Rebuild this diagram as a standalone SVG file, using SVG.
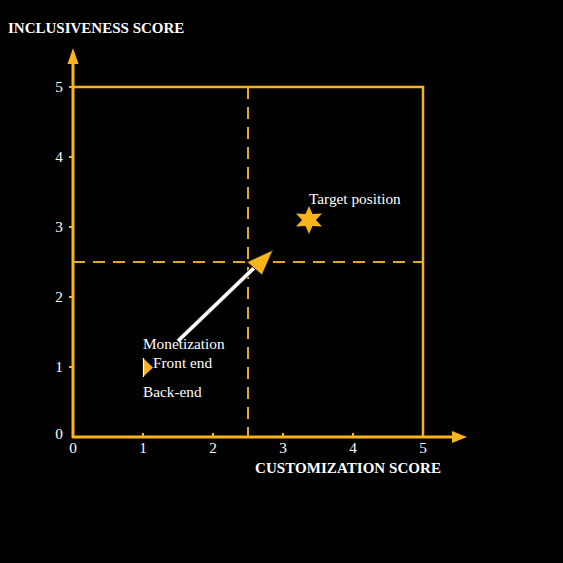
<svg xmlns="http://www.w3.org/2000/svg" width="563" height="563" viewBox="0 0 563 563">
<style>
.ax{stroke:#F8B41C;stroke-width:3;fill:none}
.box{stroke:#F8B41C;stroke-width:2.5;fill:none}
.dash{stroke:#E8A820;stroke-width:2;stroke-dasharray:12 8;fill:none}
.tick{stroke:#F8B41C;stroke-width:2}
.t{font-family:"Liberation Serif","Times New Roman",serif;font-size:15.3px;fill:#fff}
.b{font-family:"Liberation Serif","Times New Roman",serif;font-size:15px;font-weight:bold;fill:#fff}
.yl{text-anchor:end}
.xl{text-anchor:middle}
</style>
<rect width="563" height="563" fill="#000"/>
<text class="b" x="8" y="33">INCLUSIVENESS SCORE</text>
<text class="b" x="255" y="473" textLength="186">CUSTOMIZATION SCORE</text>
<g id="quadrants">
<polyline class="box" points="73,87 423,87 423,437"/>
<line class="dash" x1="248" y1="87" x2="248" y2="437"/>
<line class="dash" x1="73" y1="262" x2="423" y2="262"/>
</g>
<g id="axes">
<line class="ax" x1="73" y1="438" x2="73" y2="62"/>
<polygon points="73,48 67.5,64 78.5,64" fill="#F8B41C"/>
<line class="ax" x1="72" y1="437" x2="454" y2="437"/>
<polygon points="467,437 452,431 452,443" fill="#F8B41C"/>
<g class="tick">
<line x1="143" y1="433" x2="143" y2="437"/>
<line x1="213" y1="433" x2="213" y2="437"/>
<line x1="283" y1="433" x2="283" y2="437"/>
<line x1="353" y1="433" x2="353" y2="437"/>
<line x1="69" y1="367" x2="73" y2="367"/>
<line x1="69" y1="297" x2="73" y2="297"/>
<line x1="69" y1="227" x2="73" y2="227"/>
<line x1="69" y1="157" x2="73" y2="157"/>
<line x1="69" y1="87" x2="73" y2="87"/>
</g>
<text class="t yl" x="63" y="92">5</text>
<text class="t yl" x="63" y="162">4</text>
<text class="t yl" x="63" y="232">3</text>
<text class="t yl" x="63" y="302">2</text>
<text class="t yl" x="63" y="372">1</text>
<text class="t yl" x="63" y="439">0</text>
<text class="t xl" x="73" y="453">0</text>
<text class="t xl" x="143" y="453">1</text>
<text class="t xl" x="213" y="453">2</text>
<text class="t xl" x="283" y="453">3</text>
<text class="t xl" x="353" y="453">4</text>
<text class="t xl" x="423" y="453">5</text>
</g>
<g id="connectors">
<line x1="178" y1="341" x2="256" y2="266" stroke="#222" stroke-width="5"/>
<line x1="178" y1="341" x2="256" y2="266" stroke="#fff" stroke-width="3.5"/>
<polygon points="273,250 247,262 262,275" fill="#F8B41C" stroke="#222" stroke-width="1"/>
</g>
<g id="target">
<polygon points="309,206 312.5,214 322,213.5 316,220 322,226.5 312.5,226 309,234 305.5,226 296,226.5 302,220 296,213.5 305.5,214" fill="#F8B41C"/>
<text class="t" x="309" y="204">Target position</text>
</g>
<g id="current">
<polygon points="144,359 153,367.5 144,376" fill="#F8B41C"/>
<line x1="143.5" y1="358" x2="143.5" y2="377" stroke="#fff" stroke-width="1.2"/>
<text class="t" x="143" y="349">Monetization</text>
<text class="t" x="153" y="368">Front end</text>
<text class="t" x="143" y="397">Back-end</text>
</g>
</svg>
